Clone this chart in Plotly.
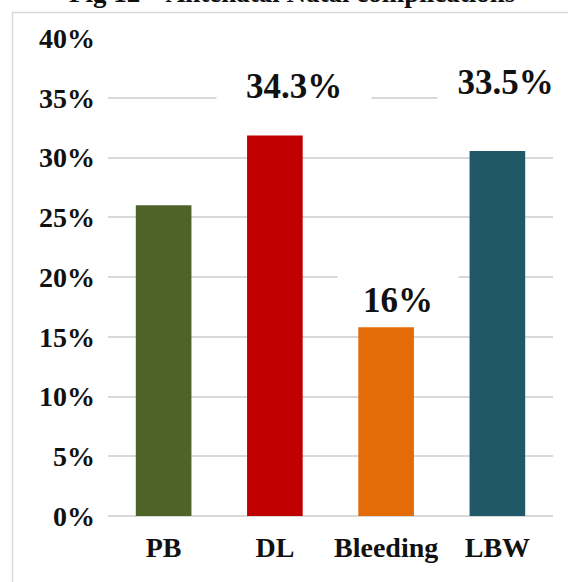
import plotly.graph_objects as go

categories = ["PB", "DL", "Bleeding", "LBW"]
values = [26.0, 31.85, 15.8, 30.55]
colors = ["#4f6228", "#c00000", "#e36c09", "#215868"]

label_cats = ["DL", "Bleeding", "LBW"]
label_texts = ["34.3%", "16%", "33.5%"]
label_y = [36.0, 18.1, 36.3]
label_xshift = [19, 12, 8]
label_box_w = [154, 120, 135]
label_box_h = [40, 52, 40]

tick_vals = [0, 5, 10, 15, 20, 25, 30, 35, 40]
tick_text = ["0%", "5%", "10%", "15%", "20%", "25%", "30%", "35%", "40%"]

title_text = "Fig 12 \u2013 Antenatal Natal complications"

W, H = 568, 582
L, R, T, B = 108, 15, 38, 66
pw, ph = W - L - R, H - T - B

serif = "Liberation Serif"

fig = go.Figure()
fig.add_trace(go.Bar(
    x=categories, y=values, marker=dict(color=colors, line=dict(width=0)),
    width=0.5, hoverinfo="skip",
))

for c, t, y, xs, bw, bh in zip(label_cats, label_texts, label_y, label_xshift, label_box_w, label_box_h):
    fig.add_annotation(
        x=c, y=y, xref="x", yref="y", text=t, showarrow=False,
        xshift=xs, yanchor="middle", xanchor="center",
        width=bw, height=bh, bgcolor="white", borderpad=0,
        font=dict(family=serif, size=35, color="#111111", weight="bold"),
    )

# title, mostly cut off at the top edge (as in the reference)
fig.add_annotation(
    x=(292 - L) / pw, y=1 + (T + 7.2) / ph,
    xref="paper", yref="paper", text=title_text, showarrow=False,
    xanchor="center", yanchor="middle",
    font=dict(family=serif, size=27, color="#111111", weight="bold"),
)

# outer chart-area border
fig.add_shape(
    type="rect", xref="paper", yref="paper",
    x0=(12.5 - L) / pw, x1=(W + 10 - L) / pw,
    y0=-(B + 10) / ph, y1=1 + (T - 12.5) / ph,
    line=dict(color="#d9d9d9", width=1.5), fillcolor="rgba(0,0,0,0)", layer="below",
)

fig.update_layout(
    width=W, height=H,
    margin=dict(l=L, r=R, t=T, b=B, pad=0),
    paper_bgcolor="white", plot_bgcolor="white",
    showlegend=False, bargap=0.5,
    xaxis=dict(
        range=[-0.5, 3.5], autorange=False,
        showgrid=False, showline=False, zeroline=False, ticks="",
        tickfont=dict(family=serif, size=28, color="#111111", weight="bold"),
        ticklabelstandoff=12,
    ),
    yaxis=dict(
        range=[0, 40], autorange=False, tickvals=tick_vals, ticktext=tick_text,
        showgrid=True, gridcolor="#d9d9d9", gridwidth=1.5,
        zeroline=True, zerolinecolor="#d9d9d9", zerolinewidth=1.5,
        showline=False, ticks="",
        tickfont=dict(family=serif, size=28, color="#111111", weight="bold"),
        ticklabelstandoff=12,
    ),
)

fig.write_html("out.html")
